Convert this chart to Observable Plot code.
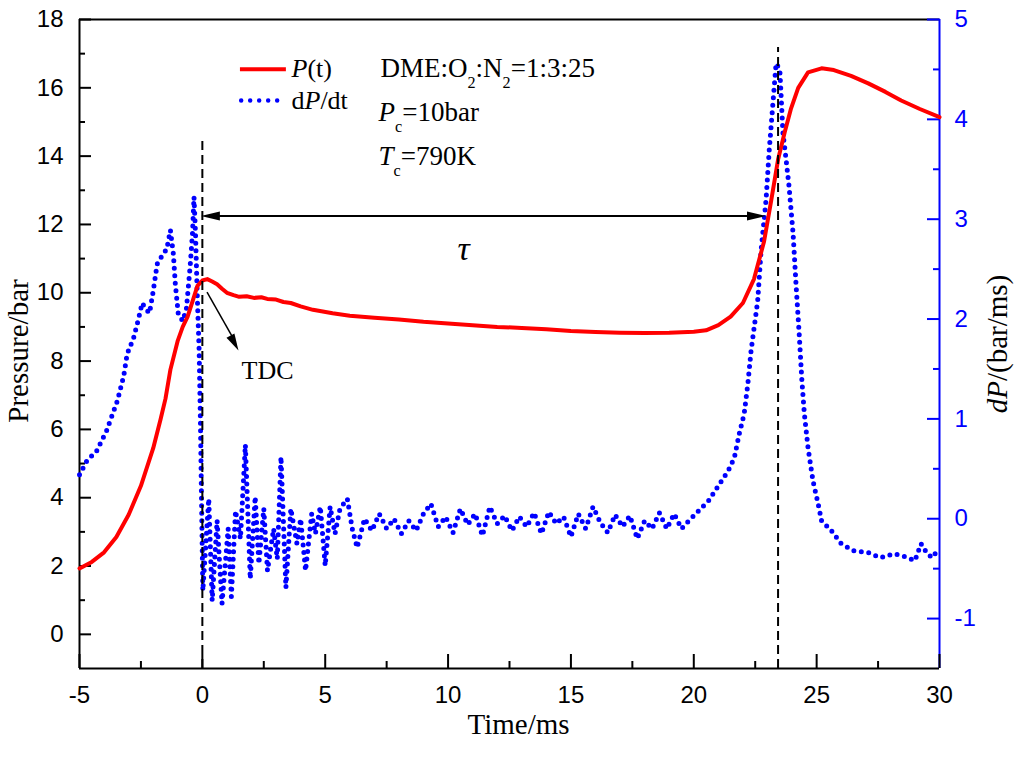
<!DOCTYPE html>
<html><head><meta charset="utf-8">
<script src="https://cdn.jsdelivr.net/npm/d3@7"></script>
<script src="https://cdn.jsdelivr.net/npm/@observablehq/plot@0.6"></script>
<style>html,body{margin:0;padding:0;background:#fff;} #chart{width:1024px;height:759px;}</style>
</head><body><div id="chart"></div>
<script>
// ---- data ----
const pressureTime = [-5,-4.5,-4,-3.5,-3,-2.5,-2,-1.7,-1.5,-1.3,-1.0,-0.8,-0.6,-0.4,-0.2,0,0.2,0.4,0.6,0.8,1.0,1.27,1.5,1.8,2.1,2.4,2.64,3.0,3.3,3.6,4.0,4.5,5.3,6,7,8,9,10,11,12,13,14,15,16,17,18,19,20,20.5,21,21.5,22.0,22.45,22.86,23.15,23.43,23.7,23.96,24.25,24.65,25.2,25.7,26.4,27.1,27.8,28.44,29.2,30];
const pressureValue = [1.93,2.12,2.4,2.85,3.5,4.35,5.45,6.3,6.9,7.75,8.6,9.0,9.3,9.75,10.2,10.36,10.4,10.33,10.25,10.12,10.0,9.93,9.88,9.9,9.85,9.87,9.82,9.8,9.73,9.7,9.6,9.5,9.4,9.33,9.27,9.22,9.15,9.1,9.05,9.0,8.97,8.93,8.88,8.85,8.83,8.82,8.83,8.86,8.9,9.05,9.3,9.7,10.4,11.5,12.7,13.9,14.7,15.4,16.0,16.45,16.57,16.52,16.35,16.13,15.88,15.63,15.38,15.14];

const rateTime = [-5,-4.7,-4.3,-3.9,-3.46,-3.2,-3.06,-2.8,-2.6,-2.45,-2.3,-2.15,-2.0,-1.84,-1.6,-1.45,-1.3,-1.18,-1.1,-0.98,-0.8,-0.65,-0.5,-0.4,-0.34,-0.28,-0.2,-0.13,-0.08,-0.04,0.02,
 0.26,0.4,0.6,0.8,1.05,1.18,1.35,1.55,1.75,1.95,2.15,2.3,2.5,2.65,2.9,3.05,3.2,3.4,3.6,3.85,4.0,4.2,4.45,4.6,4.8,5.0,5.2,5.4,5.6,5.9,6.1,6.3,
 6.6,6.9,7.2,7.5,7.8,8.1,8.4,8.7,9.0,9.3,9.6,9.9,10.2,10.5,10.8,11.1,11.4,11.7,12.0,12.3,12.6,12.9,13.2,13.5,13.8,14.1,14.4,14.7,15.0,15.3,15.6,15.9,16.2,16.5,16.8,17.1,17.4,17.7,18.0,18.3,18.6,18.9,19.2,19.5,19.8,
 20.2,20.6,21.0,21.4,21.65,21.85,22.05,22.2,22.33,22.6,22.74,22.94,23.07,23.23,23.35,23.5,23.63,23.76,23.88,24.04,24.16,24.29,24.4,24.5,24.65,24.85,25.06,25.2,25.6,26.0,26.5,27.1,27.6,28.15,28.6,29.0,29.25,29.5,29.7,30];
const rateValue = [0.44,0.58,0.68,0.88,1.18,1.43,1.65,1.81,2.0,2.16,2.1,2.06,2.28,2.55,2.65,2.7,2.89,2.65,2.35,2.05,1.98,2.1,2.52,2.86,3.22,2.86,2.18,1.68,1.0,0.3,-0.72,
 0.2,-0.82,-0.02,-0.85,-0.1,-0.78,0.08,-0.2,0.74,-0.6,0.22,-0.45,0.1,-0.52,-0.1,-0.4,0.62,-0.69,0.1,-0.25,0.0,-0.52,0.05,-0.15,0.12,-0.47,0.12,-0.15,0.1,0.2,-0.1,-0.29,
 0.0,-0.12,0.05,-0.1,0.0,-0.15,-0.02,-0.12,0.05,0.15,-0.08,0.02,-0.14,0.1,-0.06,0.05,-0.17,0.12,-0.05,0.03,-0.12,0.02,-0.08,0.06,-0.15,0.07,-0.05,0.02,-0.18,0.05,-0.1,0.12,-0.04,-0.14,0.04,-0.08,0.03,-0.2,-0.02,-0.1,0.06,-0.1,0.05,-0.1,-0.02,
 0.08,0.18,0.33,0.48,0.61,0.85,1.05,1.35,1.68,2.18,2.69,3.19,3.69,4.19,4.56,4.5,3.86,3.59,3.32,2.86,2.35,1.85,1.38,1.05,0.71,0.38,0.15,-0.02,-0.12,-0.25,-0.32,-0.34,-0.39,-0.35,-0.38,-0.42,-0.25,-0.35,-0.39,-0.29];

const xMajor = [-5,0,5,10,15,20,25,30];
const xMinor = [-2.5,2.5,7.5,12.5,17.5,22.5,27.5];
const leftMajor = [0,2,4,6,8,10,12,14,16,18];
const leftMinor = [1,3,5,7,9,11,13,15,17];
const rightMajor = [-1,0,1,2,3,4,5];
const rightMinor = [-0.5,0.5,1.5,2.5,3.5,4.5];

const tdcTime = 0;          // TDC marker
const ignitionTime = 23.43; // ignition marker
const tauLevel = 12.25;     // pressure level of the tau arrow
const tauEnd = 22.94;

// ---- scales: right axis mapped into left domain ----
const leftDomain = [-1, 18], rightDomain = [-1.5, 5];
const toLeft = d => leftDomain[0] + (d - rightDomain[0]) * (leftDomain[1] - leftDomain[0]) / (rightDomain[1] - rightDomain[0]);
const toRight = p => rightDomain[0] + (p - leftDomain[0]) * (rightDomain[1] - rightDomain[0]) / (leftDomain[1] - leftDomain[0]);

const pressure = pressureTime.map((t, i) => ({t, P: pressureValue[i]}));
const rate = rateTime.map((t, i) => ({t, d: rateValue[i]}));

const RED = "#ff0000", BLUE = "#0000ff";
const SERIF = "Liberation Serif, Times New Roman, serif";
const SANS = "Liberation Sans, Arial, sans-serif";
const fmt = v => String(Math.round(v * 10) / 10);

function head(angleDeg, len, halfW) {
  const a = angleDeg * Math.PI / 180, c = Math.cos(a), s = Math.sin(a);
  const rot = (x, y) => [x * c - y * s, x * s + y * c];
  return {draw(ctx) {
    const p1 = rot(-len, -halfW), p2 = rot(-len, halfW);
    ctx.moveTo(0, 0); ctx.lineTo(p1[0], p1[1]); ctx.lineTo(p2[0], p2[1]); ctx.closePath();
  }};
}

const txt = (s, opts) => Plot.text([s], {text: d => d, frameAnchor: "top-left", textAnchor: "start", lineAnchor: "middle", fontFamily: SERIF, fill: "black", ...opts});

const chart = Plot.plot({
  width: 1024, height: 759,
  marginLeft: 79, marginRight: 85, marginTop: 19, marginBottom: 91,
  style: {background: "white", overflow: "visible"},
  x: {domain: [-5, 30], label: null},
  y: {domain: leftDomain, label: null},
  marks: [
    // frame
    Plot.ruleY([leftDomain[0], leftDomain[1]], {stroke: "black", strokeWidth: 2}),
    Plot.ruleX([-5], {stroke: "black", strokeWidth: 2}),
    Plot.ruleX([30], {stroke: BLUE, strokeWidth: 2}),
    // axes
    Plot.axisX(xMajor, {anchor: "bottom", tickSize: -14, tickPadding: 31, strokeWidth: 2, fontSize: 24, fontFamily: SANS, fill: "black", stroke: "black", label: null, tickFormat: fmt}),
    Plot.axisX(xMinor, {anchor: "bottom", tickSize: -7, strokeWidth: 2, stroke: "black", fill: "none", label: null}),
    Plot.axisY(leftMajor, {anchor: "left", tickSize: -12, tickPadding: 28, strokeWidth: 2, fontSize: 24, fontFamily: SANS, fill: "black", stroke: "black", label: null, tickFormat: fmt}),
    Plot.axisY(leftMinor, {anchor: "left", tickSize: -6, strokeWidth: 2, stroke: "black", fill: "none", label: null}),
    Plot.axisY(rightMajor.map(toLeft), {anchor: "right", tickSize: -13, tickPadding: 28, strokeWidth: 2, fontSize: 24, fontFamily: SANS, fill: BLUE, stroke: BLUE, label: null,
      tickFormat: v => fmt(toRight(v))}),
    Plot.axisY(rightMinor.map(toLeft), {anchor: "right", tickSize: -7, strokeWidth: 2, stroke: BLUE, fill: "none", label: null}),
    // data
    Plot.line(rate, {x: "t", y: d => toLeft(d.d), stroke: BLUE, strokeWidth: 5, strokeDasharray: "0 7.5", strokeLinecap: "round"}),
    Plot.line(pressure, {x: "t", y: "P", stroke: RED, strokeWidth: 4}),
    // markers
    Plot.ruleX([{t: tdcTime, top: 14.52}], {x: "t", y1: leftDomain[0], y2: "top", stroke: "black", strokeWidth: 2, strokeDasharray: "9 5"}),
    Plot.ruleX([{t: ignitionTime, top: 17.18}], {x: "t", y1: leftDomain[0], y2: "top", stroke: "black", strokeWidth: 2, strokeDasharray: "9 5"}),
    Plot.ruleY([{P: tauLevel, a: tdcTime + 0.4, b: tauEnd - 0.4}], {y: "P", x1: "a", x2: "b", stroke: "black", strokeWidth: 2}),
    Plot.dot([{t: tdcTime - 0.06, P: tauLevel}], {x: "t", y: "P", symbol: head(180, 19, 4.5), fill: "black", stroke: "none"}),
    Plot.dot([{t: tauEnd, P: tauLevel}], {x: "t", y: "P", symbol: head(0, 19, 4.5), fill: "black", stroke: "none"}),
    Plot.link([{t1: 0.19, p1: 10.02, t2: 1.35, p2: 8.55}], {x1: "t1", y1: "p1", x2: "t2", y2: "p2", stroke: "black", strokeWidth: 1.5}),
    Plot.dot([{t: 1.47, P: 8.31}], {x: "t", y: "P", symbol: head(61.8, 17, 4.5), fill: "black", stroke: "none"}),
    // legend samples
    Plot.ruleY([{P: 16.54, a: 1.55, b: 3.42}], {y: "P", x1: "a", x2: "b", stroke: RED, strokeWidth: 4}),
    Plot.ruleY([{P: 15.63, a: 1.6, b: 3.3}], {y: "P", x1: "a", x2: "b", stroke: BLUE, strokeWidth: 4.5, strokeDasharray: "0 9", strokeLinecap: "round"}),
    // texts
    txt("P(t)", {dx: 212, dy: 49, fontSize: 26}),
    txt("dP/dt", {dx: 212, dy: 81, fontSize: 26}),
    txt("DME:O2:N2=1:3:25", {dx: 301, dy: 49, fontSize: 27}),
    txt("Pc=10bar", {dx: 299, dy: 93, fontSize: 27}),
    txt("Tc=790K", {dx: 299, dy: 137, fontSize: 27}),
    txt("TDC", {dx: 162, dy: 351, fontSize: 26}),
    Plot.text(["τ"], {text: d => d, frameAnchor: "top-left", textAnchor: "middle", lineAnchor: "middle", dx: 384, dy: 230, fontSize: 34, fontStyle: "italic", fontFamily: SERIF, fill: "black"}),
    // axis titles
    Plot.text(["Pressure/bar"], {text: d => d, frameAnchor: "left", textAnchor: "middle", lineAnchor: "middle", dx: -61, dy: 7, rotate: -90, fontSize: 29, fontFamily: SERIF, fill: "black"}),
    Plot.text(["dP/(bar/ms)"], {text: d => d, frameAnchor: "right", textAnchor: "middle", lineAnchor: "middle", dx: 58, dy: 0, rotate: -90, fontSize: 29, fontFamily: SERIF, fill: "black"}),
    Plot.text(["Time/ms"], {text: d => d, frameAnchor: "bottom", textAnchor: "middle", lineAnchor: "middle", dx: 9, dy: 56, fontSize: 29, fontFamily: SERIF, fill: "black"})
  ]
});

// rich text (italics and subscripts)
const IT = {italic: true}, SUB = {sub: true};
const rich = {
  "P(t)": [["P", IT], ["(t)"]],
  "dP/dt": [["d"], ["P", IT], ["/dt"]],
  "DME:O2:N2=1:3:25": [["DME:O"], ["2", SUB], [":N"], ["2", SUB], ["=1:3:25"]],
  "Pc=10bar": [["P", IT], ["c", SUB], ["=10bar"]],
  "Tc=790K": [["T", IT], ["c", SUB], ["=790K"]],
  "dP/(bar/ms)": [["dP", IT], ["/(bar/ms)"]]
};
d3.select(chart).selectAll("text").each(function() {
  const parts = rich[this.textContent];
  if (!parts) return;
  const el = d3.select(this);
  const fs = parseFloat(el.attr("font-size") || getComputedStyle(this).fontSize) || 27;
  const shift = fs * 0.4;
  el.text(null);
  let down = false;
  for (const [s, st = {}] of parts) {
    const sp = el.append("tspan").text(s);
    if (st.italic) sp.attr("font-style", "italic");
    if (st.sub) { sp.attr("font-size", fs * 0.6).attr("dy", shift); down = true; }
    else if (down) { sp.attr("dy", -shift); down = false; }
  }
});

document.getElementById("chart").appendChild(chart);
</script></body></html>
